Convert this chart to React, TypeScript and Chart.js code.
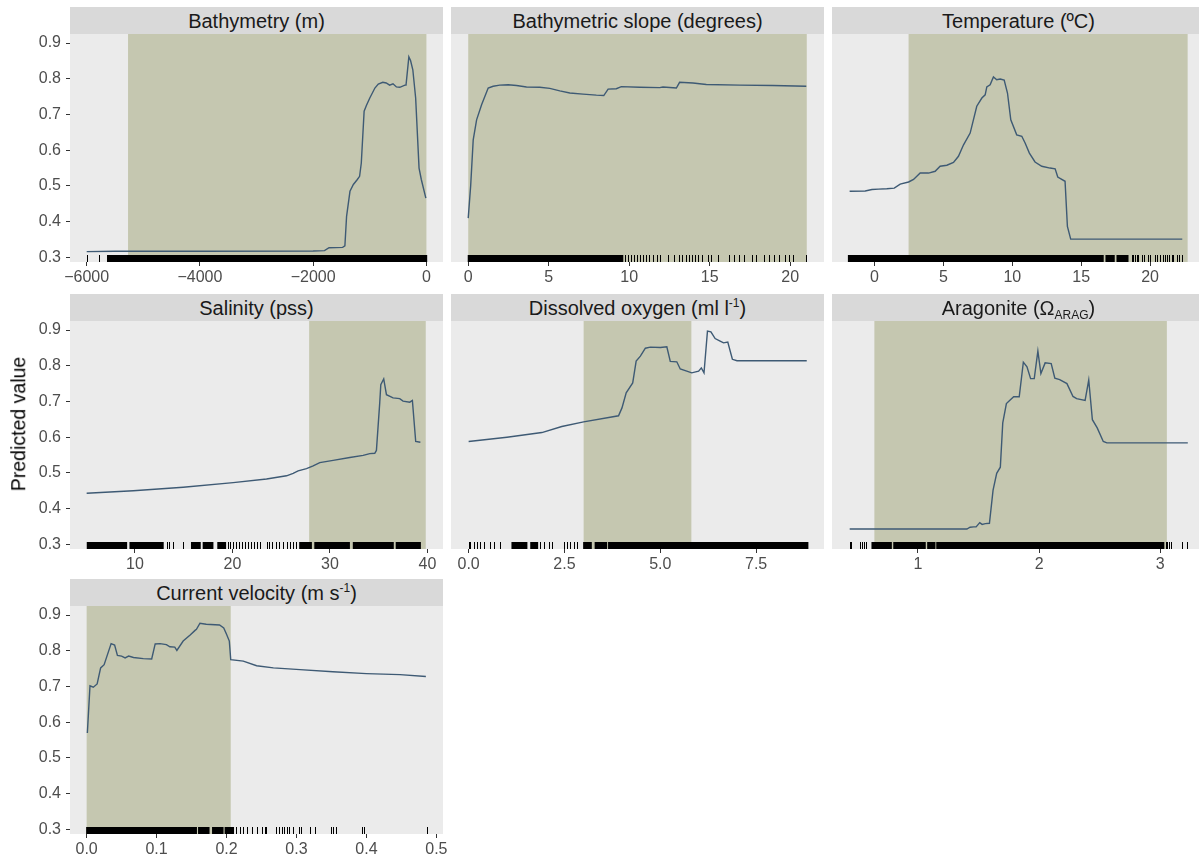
import React, { useEffect, useRef } from "react";
import { Chart, registerables } from "chart.js";

Chart.register(...registerables);

const FONT = '"Liberation Sans", Arial, Helvetica, sans-serif';
const PANEL_BG = "#EBEBEB";
const HIGHLIGHT = "#C5C7B0";
const STRIP_BG = "#D9D9D9";
const LINE = "#3E5A74";
const TICK_TEXT = "#4D4D4D";

// shared y axis
const yTicks = [0.3, 0.4, 0.5, 0.6, 0.7, 0.8, 0.9];
const yTickLabels = ["0.3", "0.4", "0.5", "0.6", "0.7", "0.8", "0.9"];
const yLimits = [0.2871, 0.9252];

// Bathymetry (m)
const bathyX = [-6000, -5500, -4000, -2000, -1800, -1720, -1480, -1440, -1410, -1350, -1290, -1220, -1180, -1150, -1100, -1060, -1000, -910, -850, -770, -710, -650, -590, -530, -470, -380, -360, -310, -280, -240, -190, -130, -90, -10];
const bathyY = [0.316, 0.317, 0.317, 0.318, 0.319, 0.327, 0.328, 0.332, 0.415, 0.485, 0.504, 0.518, 0.527, 0.564, 0.709, 0.725, 0.746, 0.774, 0.785, 0.79, 0.788, 0.782, 0.786, 0.777, 0.776, 0.782, 0.782, 0.861, 0.851, 0.825, 0.746, 0.55, 0.518, 0.466];
const bathyTicks = [-6000, -4000, -2000, 0];
const bathyTickLabels = ["\u22126000", "\u22124000", "\u22122000", "0"];
const bathyLimits = [-6295, 293];
const bathyRange = [-5270, 0];
const bathyRugRuns = [[-5580, 5]];
const bathyRugTicks = [-5990, -5785, -5650, -5625, -5600];

// Bathymetric slope (degrees)
const slopeX = [0, 0.15, 0.31, 0.52, 0.83, 1.24, 1.55, 1.96, 2.48, 3.0, 3.62, 4.45, 5.07, 5.69, 6.31, 7.13, 7.96, 8.42, 8.69, 9.2, 9.51, 10.65, 11.89, 12.1, 12.93, 13.13, 13.96, 14.79, 16.85, 18.92, 21.0];
const slopeY = [0.41, 0.499, 0.629, 0.685, 0.727, 0.774, 0.779, 0.782, 0.783, 0.781, 0.777, 0.776, 0.773, 0.766, 0.76, 0.757, 0.754, 0.753, 0.771, 0.772, 0.778, 0.776, 0.775, 0.777, 0.774, 0.79, 0.788, 0.784, 0.782, 0.781, 0.779];
const slopeTicks = [0, 5, 10, 15, 20];
const slopeTickLabels = ["0", "5", "10", "15", "20"];
const slopeLimits = [-1.07, 22.1];
const slopeRange = [0, 21.03];
const slopeRugRuns = [[0, 9.6]];
const slopeRugTicks = [9.75, 9.9, 10.1, 10.3, 10.5, 10.7, 10.85, 11.05, 11.25, 11.5, 11.7, 11.9, 12.4, 12.8, 13.1, 13.3, 13.5, 13.7, 13.9, 14.1, 14.3, 14.55, 14.9, 15.1, 15.5, 16.2, 16.5, 16.85, 17.1, 17.6, 17.9, 18.4, 18.7, 19.0, 19.3, 19.7, 19.9, 20.2, 21.0];

// Temperature
const tempX = [-1.81, -0.68, -0.19, 0.29, 0.89, 1.43, 1.86, 2.47, 2.83, 3.31, 3.92, 4.4, 4.76, 5.25, 5.73, 6.09, 6.46, 6.94, 7.42, 7.79, 8.03, 8.15, 8.39, 8.63, 8.87, 9.12, 9.41, 9.65, 9.89, 10.32, 10.69, 10.93, 11.24, 11.65, 12.14, 12.74, 13.11, 13.3, 13.83, 14.0, 14.24, 16.61, 22.34];
const tempY = [0.485, 0.486, 0.49, 0.491, 0.492, 0.494, 0.505, 0.511, 0.518, 0.536, 0.536, 0.541, 0.555, 0.558, 0.566, 0.583, 0.615, 0.648, 0.723, 0.746, 0.755, 0.777, 0.783, 0.805, 0.797, 0.799, 0.796, 0.76, 0.685, 0.643, 0.639, 0.62, 0.592, 0.567, 0.555, 0.55, 0.548, 0.525, 0.513, 0.387, 0.351, 0.351, 0.351];
const tempTicks = [0, 5, 10, 15, 20];
const tempTickLabels = ["0", "5", "10", "15", "20"];
const tempLimits = [-3.09, 23.99];
const tempRange = [2.47, 22.73];
const tempRugRuns = [[-1.9, 16.6], [16.8, 17.4], [17.6, 18.4]];
const tempRugTicks = [18.67, 18.79, 18.91, 19.03, 19.15, 19.39, 19.56, 19.88, 20.0, 20.36, 20.53, 20.72, 20.96, 21.09, 21.21, 21.4, 21.57, 21.69, 21.93, 22.12, 22.29];

// Salinity (pss)
const salX = [5.05, 9.83, 14.95, 20.08, 23.5, 25.55, 26.23, 26.74, 27.6, 28.28, 28.96, 30.33, 32.04, 33.41, 34.09, 34.6, 34.77, 35.11, 35.22, 35.52, 35.8, 36.48, 37.16, 37.5, 38.19, 38.46, 38.8, 39.28];
const salY = [0.443, 0.45, 0.46, 0.473, 0.483, 0.492, 0.499, 0.506, 0.512, 0.52, 0.529, 0.535, 0.543, 0.549, 0.554, 0.555, 0.563, 0.696, 0.747, 0.763, 0.719, 0.71, 0.708, 0.701, 0.698, 0.703, 0.588, 0.586];
const salTicks = [10, 20, 30, 40];
const salTickLabels = ["10", "20", "30", "40"];
const salLimits = [3.34, 41.6];
const salRange = [27.87, 39.83];
const salRugRuns = [[5.11, 9.15], [9.49, 12.9], [15.8, 16.7], [17.0, 18.0], [18.5, 19.3], [26.9, 28.1], [28.45, 32.0], [32.4, 36.5], [36.8, 39.28]];
const salRugTicks = [13.25, 13.5, 13.93, 14.95, 19.5, 19.75, 20.1, 20.4, 20.7, 21.0, 21.3, 21.6, 21.9, 22.2, 22.5, 22.8, 23.5, 23.8, 24.1, 24.5, 24.8, 25.2, 25.55, 25.9, 26.2, 26.5];

// Dissolved oxygen (ml l-1)
const doX = [0, 1.0, 1.91, 2.43, 3.0, 3.91, 4.0, 4.11, 4.28, 4.37, 4.48, 4.61, 4.74, 5.0, 5.17, 5.26, 5.43, 5.52, 5.69, 5.82, 6.0, 6.07, 6.14, 6.23, 6.32, 6.43, 6.56, 6.65, 6.76, 6.88, 7.0, 8.82];
const doY = [0.588, 0.6, 0.613, 0.63, 0.643, 0.66, 0.682, 0.724, 0.752, 0.813, 0.827, 0.849, 0.852, 0.851, 0.853, 0.812, 0.811, 0.791, 0.785, 0.78, 0.785, 0.794, 0.78, 0.897, 0.895, 0.876, 0.869, 0.864, 0.866, 0.818, 0.814, 0.814];
const doTicks = [0, 2.5, 5, 7.5];
const doTickLabels = ["0.0", "2.5", "5.0", "7.5"];
const doLimits = [-0.46, 9.27];
const doRange = [3.0, 5.81];
const doRugRuns = [[1.13, 1.52], [1.62, 1.8], [3.0, 3.2], [3.3, 3.6], [3.65, 8.85]];
const doRugTicks = [0, 0.04, 0.13, 0.22, 0.3, 0.39, 0.56, 0.65, 0.83, 1.87, 1.96, 2.09, 2.17, 2.49, 2.56, 2.65, 2.74, 2.82];

// Aragonite
const aragX = [0.436, 1.404, 1.43, 1.46, 1.48, 1.51, 1.53, 1.556, 1.59, 1.62, 1.65, 1.68, 1.7, 1.73, 1.79, 1.836, 1.87, 1.9, 1.93, 1.96, 1.99, 2.015, 2.05, 2.1, 2.13, 2.17, 2.23, 2.28, 2.31, 2.38, 2.41, 2.44, 2.48, 2.53, 2.56, 2.67, 3.228];
const aragY = [0.343, 0.343, 0.348, 0.349, 0.349, 0.361, 0.356, 0.358, 0.359, 0.452, 0.499, 0.516, 0.64, 0.694, 0.713, 0.713, 0.81, 0.797, 0.764, 0.764, 0.841, 0.778, 0.808, 0.806, 0.765, 0.761, 0.75, 0.714, 0.708, 0.703, 0.76, 0.649, 0.626, 0.588, 0.584, 0.584, 0.584];
const aragTicks = [1, 2, 3];
const aragTickLabels = ["1", "2", "3"];
const aragLimits = [0.29, 3.37];
const aragRange = [0.64, 3.055];
const aragRugRuns = [[0.62, 0.78], [0.8, 1.06], [1.08, 1.14], [1.155, 3.03]];
const aragRugTicks = [0.436, 0.45, 0.519, 0.538, 0.552, 0.574, 3.045, 3.06, 3.075, 3.09, 3.18, 3.22];

// Current velocity (m s-1)
const velX = [0.001, 0.0048, 0.0095, 0.015, 0.02, 0.025, 0.035, 0.04, 0.044, 0.05, 0.055, 0.06, 0.067, 0.081, 0.093, 0.098, 0.105, 0.114, 0.119, 0.126, 0.129, 0.138, 0.148, 0.155, 0.157, 0.162, 0.171, 0.19, 0.196, 0.2, 0.204, 0.206, 0.224, 0.243, 0.267, 0.305, 0.352, 0.4, 0.448, 0.485];
const velY = [0.57, 0.702, 0.698, 0.707, 0.752, 0.761, 0.82, 0.816, 0.787, 0.785, 0.78, 0.785, 0.781, 0.778, 0.777, 0.819, 0.82, 0.817, 0.811, 0.81, 0.801, 0.827, 0.844, 0.857, 0.86, 0.877, 0.874, 0.872, 0.864, 0.846, 0.827, 0.775, 0.771, 0.758, 0.752, 0.747, 0.741, 0.736, 0.733, 0.728];
const velTicks = [0, 0.1, 0.2, 0.3, 0.4, 0.5];
const velTickLabels = ["0.0", "0.1", "0.2", "0.3", "0.4", "0.5"];
const velLimits = [-0.0238, 0.5095];
const velRange = [0, 0.206];
const velRugRuns = [[0, 0.157], [0.16, 0.175], [0.18, 0.195], [0.198, 0.21]];
const velRugTicks = [0.214, 0.219, 0.224, 0.229, 0.236, 0.243, 0.25, 0.255, 0.257, 0.271, 0.275, 0.279, 0.282, 0.286, 0.29, 0.295, 0.304, 0.307, 0.319, 0.326, 0.349, 0.352, 0.356, 0.394, 0.396, 0.486];

// layout
const COL_LEFT = [70, 451, 832];
const ROW_TOP = [34, 321, 606];
const PW = 373;
const PH = 228;
const STRIP_H = 27;
const X_AXIS_H = 30;
const Y_AXIS_W = 70;
const MARGIN = 20;
const RUG_LEN = 7;

type Spec = {
  title: React.ReactNode;
  row: number;
  col: number;
  x: number[];
  y: number[];
  ticks: number[];
  tickLabels: string[];
  limits: number[];
  range: number[];
  runs: number[][];
  rug: number[];
};

const sup = (t: string) => (
  <span style={{ fontSize: "0.6em", verticalAlign: "0.65em", lineHeight: 0 }}>{t}</span>
);
const sub = (t: string) => (
  <span style={{ fontSize: "0.6em", verticalAlign: "-0.3em", lineHeight: 0 }}>{t}</span>
);

const specs: Spec[] = [
  { title: "Bathymetry (m)", row: 0, col: 0, x: bathyX, y: bathyY, ticks: bathyTicks, tickLabels: bathyTickLabels, limits: bathyLimits, range: bathyRange, runs: bathyRugRuns, rug: bathyRugTicks },
  { title: "Bathymetric slope (degrees)", row: 0, col: 1, x: slopeX, y: slopeY, ticks: slopeTicks, tickLabels: slopeTickLabels, limits: slopeLimits, range: slopeRange, runs: slopeRugRuns, rug: slopeRugTicks },
  { title: "Temperature (\u00baC)", row: 0, col: 2, x: tempX, y: tempY, ticks: tempTicks, tickLabels: tempTickLabels, limits: tempLimits, range: tempRange, runs: tempRugRuns, rug: tempRugTicks },
  { title: "Salinity (pss)", row: 1, col: 0, x: salX, y: salY, ticks: salTicks, tickLabels: salTickLabels, limits: salLimits, range: salRange, runs: salRugRuns, rug: salRugTicks },
  { title: <>Dissolved oxygen (ml l{sup("-1")})</>, row: 1, col: 1, x: doX, y: doY, ticks: doTicks, tickLabels: doTickLabels, limits: doLimits, range: doRange, runs: doRugRuns, rug: doRugTicks },
  { title: <>Aragonite ({"\u03A9"}{sub("ARAG")})</>, row: 1, col: 2, x: aragX, y: aragY, ticks: aragTicks, tickLabels: aragTickLabels, limits: aragLimits, range: aragRange, runs: aragRugRuns, rug: aragRugTicks },
  { title: <>Current velocity (m s{sup("-1")})</>, row: 2, col: 0, x: velX, y: velY, ticks: velTicks, tickLabels: velTickLabels, limits: velLimits, range: velRange, runs: velRugRuns, rug: velRugTicks },
];

function Panel({ spec }: { spec: Spec }) {
  const ref = useRef<HTMLCanvasElement>(null);
  const yW = spec.col === 0 ? Y_AXIS_W : 0;
  const left = COL_LEFT[spec.col] - yW - MARGIN;
  const top = ROW_TOP[spec.row];
  const width = PW + yW + 2 * MARGIN;
  const height = PH + X_AXIS_H;

  useEffect(() => {
    if (!ref.current) return;
    const deco = {
      id: "deco",
      beforeDraw(chart: any) {
        const { ctx, chartArea: a } = chart;
        const xs = chart.scales.x;
        ctx.save();
        ctx.fillStyle = PANEL_BG;
        ctx.fillRect(a.left, a.top, a.right - a.left, a.bottom - a.top);
        const h0 = Math.max(a.left, xs.getPixelForValue(spec.range[0]));
        const h1 = Math.min(a.right, xs.getPixelForValue(spec.range[1]));
        ctx.fillStyle = HIGHLIGHT;
        ctx.fillRect(h0, a.top, h1 - h0, a.bottom - a.top);
        ctx.restore();
      },
      afterDatasetsDraw(chart: any) {
        const { ctx, chartArea: a } = chart;
        const xs = chart.scales.x;
        ctx.save();
        ctx.fillStyle = "#000000";
        const t = a.bottom - RUG_LEN;
        for (const [r0, r1] of spec.runs) {
          const p0 = xs.getPixelForValue(r0);
          const p1 = xs.getPixelForValue(r1);
          ctx.fillRect(p0 - 0.5, t, p1 - p0 + 1, RUG_LEN);
        }
        for (const v of spec.rug) {
          const p = Math.round(xs.getPixelForValue(v));
          ctx.fillRect(p, t, 1, RUG_LEN);
        }
        ctx.restore();
      },
    };

    const tickFont = { family: FONT, size: 16 };
    const chart = new Chart(ref.current, {
      type: "line",
      data: {
        datasets: [
          {
            data: spec.x.map((v, i) => ({ x: v, y: spec.y[i] })),
            borderColor: LINE,
            borderWidth: 1.4,
            pointRadius: 0,
            tension: 0,
            fill: false,
          },
        ],
      },
      options: {
        responsive: false,
        animation: false,
        events: [],
        layout: { padding: { left: MARGIN, right: MARGIN, top: 0, bottom: 0 } },
        plugins: { legend: { display: false }, tooltip: { enabled: false }, title: { display: false } },
        scales: {
          x: {
            type: "linear",
            min: spec.limits[0],
            max: spec.limits[1],
            afterBuildTicks: (s: any) => {
              s.ticks = spec.ticks.map((v) => ({ value: v }));
            },
            afterFit: (s: any) => {
              s.height = X_AXIS_H;
              s.paddingLeft = 0;
              s.paddingRight = 0;
            },
            ticks: {
              autoSkip: false,
              maxRotation: 0,
              minRotation: 0,
              padding: 2,
              color: TICK_TEXT,
              font: tickFont,
              callback: (v: any) => {
                const i = spec.ticks.indexOf(Number(v));
                return i >= 0 ? spec.tickLabels[i] : "";
              },
            },
            grid: { drawOnChartArea: false, drawTicks: true, tickLength: 4, tickColor: "#333333", tickWidth: 1 },
            border: { display: false },
          },
          y: {
            type: "linear",
            display: spec.col === 0,
            min: yLimits[0],
            max: yLimits[1],
            afterBuildTicks: (s: any) => {
              s.ticks = yTicks.map((v) => ({ value: v }));
            },
            afterFit: (s: any) => {
              s.width = yW;
              s.paddingTop = 0;
              s.paddingBottom = 0;
            },
            ticks: {
              autoSkip: false,
              padding: 5,
              color: TICK_TEXT,
              font: tickFont,
              callback: (v: any) => {
                const i = yTicks.indexOf(Number(v));
                return i >= 0 ? yTickLabels[i] : "";
              },
            },
            grid: { drawOnChartArea: false, drawTicks: true, tickLength: 4, tickColor: "#333333", tickWidth: 1 },
            border: { display: false },
          },
        },
      },
      plugins: [deco],
    } as any);
    return () => chart.destroy();
  }, []);

  return (
    <>
      <div
        style={{
          position: "absolute",
          left: COL_LEFT[spec.col],
          top: top - STRIP_H,
          width: PW,
          height: STRIP_H,
          background: STRIP_BG,
          display: "flex",
          alignItems: "center",
          justifyContent: "center",
          fontFamily: FONT,
          fontSize: 20,
          color: "#1A1A1A",
          lineHeight: 1,
          whiteSpace: "nowrap",
        }}
      >
        <span>{spec.title}</span>
      </div>
      <canvas
        ref={ref}
        width={width}
        height={height}
        style={{ position: "absolute", left, top, width, height, display: "block" }}
      />
    </>
  );
}

export default function App() {
  return (
    <div
      style={{
        position: "absolute",
        left: 0,
        top: 0,
        width: 1199,
        height: 863,
        overflow: "hidden",
        background: "#FFFFFF",
      }}
    >
      {specs.map((s, i) => (
        <Panel key={i} spec={s} />
      ))}
      <div
        style={{
          position: "absolute",
          left: 19,
          top: 424,
          transform: "translate(-50%, -50%) rotate(-90deg)",
          fontFamily: FONT,
          fontSize: 19.5,
          color: "#000000",
          whiteSpace: "nowrap",
          lineHeight: 1,
        }}
      >
        Predicted value
      </div>
    </div>
  );
}
